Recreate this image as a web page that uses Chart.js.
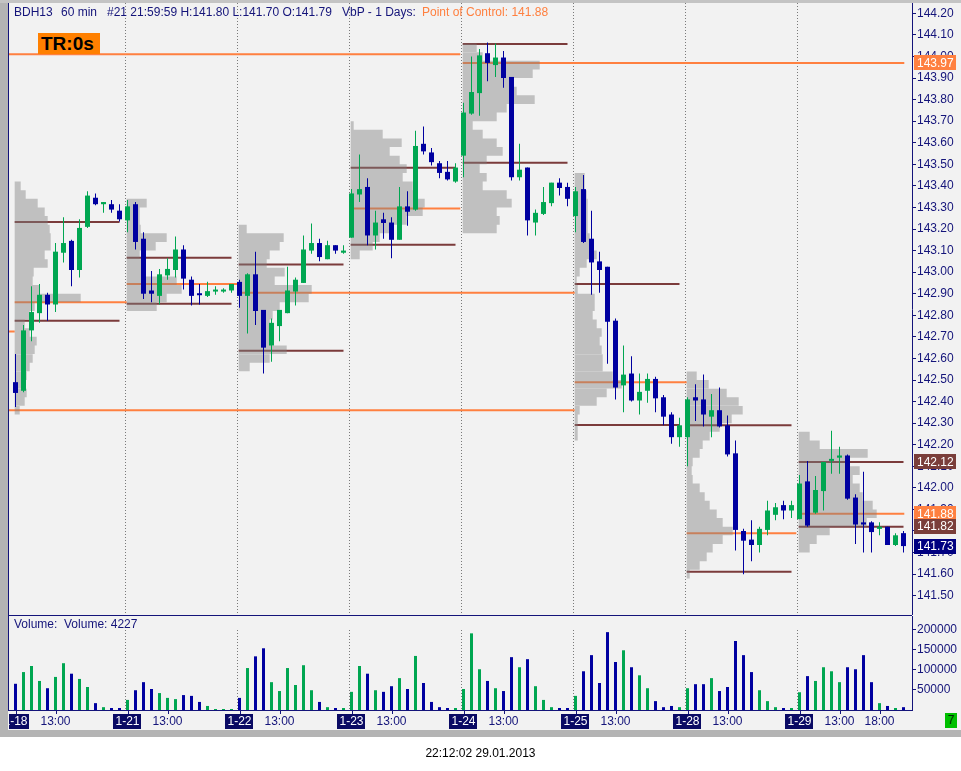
<!DOCTYPE html>
<html>
<head>
<meta charset="utf-8">
<script src="https://cdn.jsdelivr.net/npm/chart.js@4.4.1/dist/chart.umd.min.js"></script>
<style>
  html, body { margin: 0; padding: 0; background: #ffffff; }
  body { width: 961px; height: 771px; position: relative; overflow: hidden; font-family: Arial, "Liberation Sans", sans-serif; }
  .abs { position: absolute; white-space: pre; }
  #panel { left: 8px; top: 3px; width: 953px; height: 727px; background: #f2f2f2; }
  #frameLeft { left: 0; top: 0; width: 8px; height: 737px; background: #b4b4b4; }
  #frameTop { left: 0; top: 0; width: 961px; height: 3px; background: #c4c4c4; }
  #frameBottom { left: 0; top: 730px; width: 961px; height: 7px; background: #b4b4b4; }
  #navyLeft { left: 8px; top: 3px; width: 1px; height: 707px; background: #14147a; }
  #sepLine { left: 8px; top: 615px; width: 904px; height: 1px; background: #14147a; }
  #priceCanvas { left: 0; top: 0; }
  #volumeCanvas { left: 0; top: 612px; }
  .hdr { top: 5px; font-size: 12px; line-height: 14px; color: #14147a; }
  #tr { left: 38px; top: 33px; width: 62px; height: 21px; background: #ff8000; font-weight: bold; font-size: 19px; line-height: 21px; color: #000; padding-left: 3px; box-sizing: border-box; }
  #volTitle { left: 14px; top: 617px; font-size: 12px; line-height: 14px; color: #14147a; }
  #footer { left: 0; width: 961px; top: 746px; text-align: center; font-size: 12px; line-height: 14px; color: #000; }
  #liveBox { left: 945px; top: 713px; width: 12px; height: 15px; background: #00c000; font-size: 12px; line-height: 15px; text-align: center; color: #002800; }
</style>
</head>
<body>
<div class="abs" id="panel"></div>
<div class="abs" id="frameLeft"></div>
<div class="abs" id="frameTop"></div>
<div class="abs" id="frameBottom"></div>
<div class="abs" id="navyLeft"></div>
<canvas class="abs" id="priceCanvas" width="961" height="615"></canvas>
<canvas class="abs" id="volumeCanvas" width="961" height="125"></canvas>
<div class="abs" id="sepLine"></div>
<div class="abs hdr" style="left:14px">BDH13</div>
<div class="abs hdr" style="left:61px">60 min</div>
<div class="abs hdr" style="left:107px">#21 21:59:59 H:141.80 L:141.70 O:141.79</div>
<div class="abs hdr" style="left:342px">VbP - 1 Days:</div>
<div class="abs hdr" style="left:422px;color:#ff8040">Point of Control: 141.88</div>
<div class="abs" id="tr">TR:0s</div>
<div class="abs" id="volTitle">Volume:  Volume: 4227</div>
<div class="abs" id="liveBox">7</div>
<div class="abs" id="footer">22:12:02 29.01.2013</div>
<script>
// dias de la sesion, 14 velas horarias por dia (08:00 .. 21:00)
const days = ['1-18', '1-21', '1-22', '1-23', '1-24', '1-25', '1-28', '1-29'];
const hourLabels = [[5, '13:00'], [108, '18:00']];

// [open, high, low, close]
const candles = [
    [142.49, 142.62, 142.375, 142.44], [142.45, 142.755, 142.443, 142.73], [142.73, 142.935, 142.68, 142.815],
    [142.81, 142.945, 142.765, 142.895], [142.895, 142.905, 142.775, 142.85], [142.85, 143.135, 142.815, 143.095],
    [143.09, 143.255, 143.045, 143.135], [143.145, 143.15, 142.935, 143.01], [143.01, 143.245, 142.975, 143.205],
    [143.21, 143.375, 143.205, 143.355], [143.345, 143.365, 143.31, 143.315], [143.315, 143.325, 143.275, 143.325],
    [143.315, 143.335, 143.275, 143.29], [143.285, 143.315, 143.235, 143.245],

    [143.24, 143.335, 143.185, 143.305], [143.315, 143.325, 143.105, 143.14], [143.155, 143.185, 142.875, 142.9],
    [142.915, 143.005, 142.86, 142.9], [142.89, 143.015, 142.85, 142.99], [142.985, 143.065, 142.965, 143.015],
    [143.01, 143.165, 142.975, 143.105], [143.105, 143.125, 142.92, 142.97], [142.965, 142.98, 142.845, 142.89],
    [142.897, 142.945, 142.85, 142.893], [142.89, 142.955, 142.885, 142.912], [142.91, 142.935, 142.895, 142.914],
    [142.91, 142.925, 142.905, 142.914], [142.915, 142.945, 142.905, 142.945],

    [142.955, 142.965, 142.835, 142.89], [142.89, 142.995, 142.715, 142.99], [142.99, 143.095, 142.755, 142.82],
    [142.825, 142.825, 142.53, 142.65], [142.66, 142.785, 142.585, 142.765], [142.75, 142.825, 142.68, 142.825],
    [142.81, 143.025, 142.81, 142.915], [142.91, 142.975, 142.845, 142.965], [142.95, 143.17, 142.95, 143.105],
    [143.1, 143.225, 143.085, 143.135], [143.135, 143.155, 143.05, 143.07], [143.06, 143.145, 143.06, 143.125],
    [143.125, 143.125, 143.085, 143.1], [143.09, 143.125, 143.085, 143.1],

    [143.16, 143.385, 143.16, 143.365], [143.36, 143.545, 143.325, 143.385], [143.395, 143.435, 143.125, 143.17],
    [143.17, 143.285, 143.105, 143.23], [143.245, 143.275, 143.155, 143.228], [143.23, 143.255, 143.065, 143.15],
    [143.15, 143.395, 143.15, 143.305], [143.305, 143.375, 143.215, 143.28], [143.29, 143.655, 143.285, 143.585],
    [143.595, 143.675, 143.545, 143.56], [143.555, 143.575, 143.495, 143.51], [143.505, 143.515, 143.435, 143.46],
    [143.465, 143.515, 143.425, 143.43], [143.42, 143.505, 143.415, 143.485],

    [143.54, 143.785, 143.44, 143.74], [143.735, 144.0, 143.73, 143.835], [143.83, 144.035, 143.725, 144.005],
    [144.015, 144.065, 143.885, 143.97], [143.96, 144.06, 143.905, 143.995], [143.995, 144.025, 143.855, 143.9],
    [143.905, 143.905, 143.425, 143.44], [143.44, 143.595, 143.425, 143.475], [143.485, 143.485, 143.17, 143.24],
    [143.23, 143.29, 143.17, 143.275], [143.27, 143.395, 143.265, 143.325], [143.32, 143.415, 143.305, 143.415],
    [143.415, 143.435, 143.355, 143.39], [143.395, 143.415, 143.305, 143.34],

    [143.26, 143.395, 143.185, 143.375], [143.385, 143.45, 143.135, 143.14], [143.155, 143.285, 142.895, 143.045],
    [143.05, 143.095, 142.905, 143.01], [143.025, 143.025, 142.575, 142.77], [142.775, 142.785, 142.41, 142.465],
    [142.475, 142.66, 142.35, 142.525], [142.53, 142.61, 142.4, 142.405], [142.405, 142.53, 142.34, 142.445],
    [142.45, 142.53, 142.395, 142.505], [142.505, 142.515, 142.35, 142.415], [142.42, 142.43, 142.29, 142.33],
    [142.34, 142.35, 142.205, 142.235], [142.235, 142.325, 142.19, 142.29],

    [142.235, 142.42, 142.1, 142.41], [142.42, 142.48, 142.31, 142.405], [142.41, 142.525, 142.285, 142.34],
    [142.33, 142.435, 142.235, 142.36], [142.36, 142.465, 142.28, 142.285], [142.29, 142.335, 142.145, 142.155],
    [142.16, 142.22, 141.71, 141.805], [141.8, 141.81, 141.6, 141.755], [141.76, 141.85, 141.66, 141.735],
    [141.735, 141.82, 141.7, 141.81], [141.805, 141.94, 141.78, 141.895], [141.875, 141.93, 141.85, 141.91],
    [141.92, 141.94, 141.855, 141.895], [141.895, 141.94, 141.86, 141.92],

    [141.855, 142.06, 141.855, 142.02], [142.03, 142.125, 141.82, 141.825], [141.885, 142.055, 141.88, 141.99],
    [141.985, 142.12, 141.895, 142.12], [142.125, 142.265, 142.065, 142.13], [142.14, 142.19, 142.065, 142.15],
    [142.15, 142.155, 141.945, 141.95], [141.955, 141.97, 141.74, 141.83], [141.84, 142.075, 141.7, 141.83],
    [141.84, 141.845, 141.7, 141.795], [141.81, 141.84, 141.78, 141.82], [141.82, 141.82, 141.735, 141.735],
    [141.735, 141.79, 141.73, 141.78], [141.79, 141.8, 141.7, 141.73]
];

const volumes = [
    65000, 94000, 109000, 72000, 54000, 82000, 116000, 90000, 77000, 57000, 17000, 7000, 5000, 5000,
    25000, 49000, 69000, 52000, 42000, 30000, 27000, 37000, 35000, 20000, 10000, 2500, 2500, 2500,
    30000, 104000, 133000, 153000, 69000, 47000, 104000, 62000, 111000, 49000, 20000, 7000, 5000, 5000,
    45000, 109000, 90000, 49000, 45000, 59000, 79000, 52000, 134000, 67000, 20000, 7000, 5000, 5000,
    52000, 190000, 101000, 72000, 54000, 47000, 131000, 106000, 126000, 59000, 25000, 7000, 5000, 5000,
    35000, 96000, 136000, 67000, 193000, 119000, 148000, 106000, 86000, 54000, 22000, 7000, 10000, 7000,
    54000, 64000, 64000, 79000, 47000, 57000, 171000, 136000, 94000, 49000, 22000, 7000, 5000, 5000,
    44000, 84000, 72000, 106000, 96000, 69000, 106000, 101000, 136000, 69000, 17000, 10000, 5000, 7000
];

const priceTicks = [144.2, 144.1, 144.0, 143.9, 143.8, 143.7, 143.6, 143.5, 143.4, 143.3, 143.2, 143.1, 143.0,
    142.9, 142.8, 142.7, 142.6, 142.5, 142.4, 142.3, 142.2, 142.1, 142.0, 141.9, 141.8, 141.7, 141.6, 141.5];
const volumeTicks = [50000, 100000, 150000, 200000];

// volume profile de cada dia: precio del primer nivel y volumen relativo por nivel de 0.04
const profileStep = 0.04;
const profileTops = [143.40, 143.32, 143.20, 143.68, 144.04, 143.44, 142.52, 142.24];
const profiles = [
    [6, 11, 23, 30, 33, 35, 36, 36, 30, 33, 19, 18, 25, 66, 20, 15, 10, 15, 22, 20, 18, 15, 12, 10, 12, 10, 5],
    [20, 13, 13, 14, 40, 29, 13, 16, 16, 50, 55, 40, 30],
    [8, 45, 41, 31, 28, 46, 36, 73, 70, 41, 34, 31, 34, 33, 48, 31, 11],
    [3, 32, 51, 39, 49, 56, 52, 62, 66, 74, 72, 56, 39, 29, 22, 9],
    [14, 20, 77, 70, 50, 54, 72, 44, 34, 10, 20, 34, 40, 24, 17, 24, 20, 44, 49, 34, 37, 34],
    [10, 10, 12, 13, 13, 13, 13, 15, 15, 22, 12, 5, 2, 3, 20, 20, 18, 22, 27, 25, 27, 28, 28, 38, 47, 32, 22, 5, 3, 3, 3],
    [10, 22, 40, 52, 56, 45, 33, 23, 16, 13, 6, 5, 6, 13, 18, 23, 30, 36, 46, 36, 26, 20, 13, 3],
    [11, 21, 69, 51, 61, 54, 61, 64, 74, 78, 68, 31, 18, 11]
];

// point of control: [vela inicial, vela final, precio]  (null = borde del grafico)
const pocLines = [
    [null, 55.6, 144.01], [null, -0.1, 142.725], [null, 69.9, 142.36],
    [-0.1, 13.9, 142.86], [13.9, 28, 142.945], [27.9, 69.9, 142.905], [41.9, 55.6, 143.295],
    [55.9, 111.1, 143.97], [69.9, 83.9, 142.49], [83.9, 97.6, 141.79], [97.9, 111.1, 141.88]
];
// value area alto / bajo por dia
const vaHigh = [143.2325, 143.067, 143.035, 143.484, 144.058, 142.945, 142.29, 142.12];
const vaLow = [142.775, 142.854, 142.636, 143.127, 143.507, 142.291, 141.611, 141.82];

const axisMarks = [[143.97, 'poc'], [142.12, 'va'], [141.88, 'poc'], [141.82, 'va'], [141.73, 'last']];

const NAVY = '#14147a';
const GREEN = '#00a651';
const BLUE = '#0000a0';
const ORANGE = '#ff8040';
const BROWN = '#7b3b3b';
const markColors = {poc: ORANGE, va: '#7a3e3a', last: '#000080'};

const X_MIN = -0.8125;
const X_MAX = X_MIN + 903 / 8;

function candleColor(i) {
    return candles[i][3] >= candles[i][0] ? GREEN : BLUE;
}

function fixAxis(scale) {
    scale.width = 49;
    scale.paddingTop = 0;
    scale.paddingBottom = 0;
}

function segmentData(list) {
    const pts = [];
    list.forEach(s => {
        pts.push({x: s[0], y: s[2]}, {x: s[1], y: s[2]}, {x: s[1], y: null});
    });
    return pts;
}

function buildPocData() {
    return segmentData(pocLines.map(l => [l[0] === null ? X_MIN : l[0], l[1], l[2]]));
}

function buildVaData() {
    const list = [];
    days.forEach((d, k) => {
        list.push([k * 14 - 0.1, k * 14 + 13, vaHigh[k]]);
        list.push([k * 14 - 0.1, k * 14 + 13, vaLow[k]]);
    });
    return segmentData(list);
}

function buildProfileData() {
    const list = [];
    profiles.forEach((row, k) => {
        const x0 = k * 14 - 0.1;
        row.forEach((v, j) => {
            list.push([x0, x0 + v / 8, profileTops[k] - j * profileStep]);
        });
    });
    return segmentData(list);
}

// lineas punteadas de separacion de dias
const separators = {
    id: 'separators',
    beforeDatasetsDraw(chart, args, opts) {
        const {ctx, chartArea, scales} = chart;
        ctx.save();
        ctx.strokeStyle = '#7a7a7a';
        ctx.lineWidth = 1;
        ctx.setLineDash([1, 2]);
        for (let k = 1; k < days.length; k++) {
            const px = Math.round(scales.x.getPixelForValue(k * 14 - 0.375)) + 0.5;
            ctx.beginPath();
            ctx.moveTo(px, opts.top !== undefined ? opts.top : chartArea.top);
            ctx.lineTo(px, chartArea.bottom);
            ctx.stroke();
        }
        ctx.restore();
    }
};

// etiquetas de precio sobre el eje derecho
const priceMarks = {
    id: 'priceMarks',
    afterDraw(chart) {
        const {ctx, chartArea, scales} = chart;
        ctx.save();
        ctx.font = '12px Arial';
        ctx.textBaseline = 'middle';
        axisMarks.forEach(m => {
            const py = scales.y.getPixelForValue(m[0]);
            ctx.fillStyle = markColors[m[1]];
            ctx.fillRect(chartArea.right + 2, Math.round(py - 7.5), 42, 15);
            ctx.fillStyle = '#ffffff';
            ctx.fillText(m[0].toFixed(2), chartArea.right + 5, py + 0.5);
        });
        ctx.restore();
    }
};

// eje de fechas debajo del volumen
const dateAxis = {
    id: 'dateAxis',
    afterDraw(chart) {
        const {ctx, chartArea, scales} = chart;
        const x = scales.x;
        const tickAt = [];
        days.forEach((d, k) => tickAt.push(k * 14, k * 14 + hourLabels[0][0]));
        tickAt.push(hourLabels[1][0]);

        ctx.save();
        ctx.strokeStyle = NAVY;
        ctx.lineWidth = 1;
        ctx.beginPath();
        ctx.moveTo(chartArea.left - 1, chartArea.bottom + 0.5);
        ctx.lineTo(chartArea.right, chartArea.bottom + 0.5);
        tickAt.forEach(v => {
            const px = Math.round(x.getPixelForValue(v)) + 0.5;
            ctx.moveTo(px, chartArea.bottom);
            ctx.lineTo(px, chartArea.bottom + 4);
        });
        ctx.stroke();

        ctx.beginPath();
        ctx.rect(chartArea.left, 0, chartArea.right - chartArea.left, chart.height);
        ctx.clip();
        ctx.font = '12px Arial';
        ctx.textAlign = 'center';
        ctx.textBaseline = 'middle';
        const ty = chartArea.bottom + 11;
        days.forEach((d, k) => {
            const px = x.getPixelForValue(k * 14);
            const w = ctx.measureText(d).width + 4;
            ctx.fillStyle = '#0a0a64';
            ctx.fillRect(Math.round(px - w / 2), ty - 7, Math.round(w), 15);
            ctx.fillStyle = '#ffffff';
            ctx.fillText(d, px, ty + 1);
            ctx.fillStyle = NAVY;
            ctx.fillText(hourLabels[0][1], x.getPixelForValue(k * 14 + hourLabels[0][0]), ty + 1);
        });
        ctx.fillStyle = NAVY;
        ctx.fillText(hourLabels[1][1], x.getPixelForValue(hourLabels[1][0]), ty + 1);
        ctx.restore();
    }
};

document.addEventListener('DOMContentLoaded', function () {
    const colors = candles.map((c, i) => candleColor(i));

    new Chart(document.getElementById('priceCanvas'), {
        type: 'bar',
        data: {
            datasets: [
                {
                    type: 'line', data: buildPocData(), borderColor: ORANGE, borderWidth: 2,
                    pointRadius: 0, spanGaps: false, borderCapStyle: 'butt', order: 5
                },
                {
                    type: 'line', data: buildVaData(), borderColor: BROWN, borderWidth: 2,
                    pointRadius: 0, spanGaps: false, borderCapStyle: 'butt', order: 4
                },
                {
                    type: 'line', data: buildProfileData(), borderColor: 'rgba(128,128,128,0.44)', borderWidth: 8.6,
                    pointRadius: 0, spanGaps: false, borderCapStyle: 'butt', order: 3
                },
                {
                    data: candles.map((c, i) => ({x: i, y: [c[2], c[1]]})),
                    backgroundColor: colors, barThickness: 1, grouped: false, inflateAmount: 0, order: 2
                },
                {
                    data: candles.map((c, i) => ({x: i, y: [c[0], c[3]]})),
                    backgroundColor: colors, barThickness: 5, minBarLength: 2, grouped: false, inflateAmount: 0, order: 1
                }
            ]
        },
        options: {
            responsive: false,
            animation: false,
            layout: {padding: {left: 9, top: 3, right: 0, bottom: 0}},
            plugins: {legend: {display: false}, tooltip: {enabled: false}},
            scales: {
                x: {type: 'linear', display: false, offset: false, min: X_MIN, max: X_MAX},
                y: {
                    position: 'right',
                    min: 144.2478 - 612 / 215.7,
                    max: 144.2478,
                    afterFit: fixAxis,
                    afterBuildTicks: s => { s.ticks = priceTicks.map(v => ({value: v})); },
                    grid: {drawOnChartArea: false, tickLength: 4, color: NAVY},
                    border: {color: NAVY},
                    ticks: {color: NAVY, padding: 1, autoSkip: false, font: {family: 'Arial', size: 12}, callback: v => v.toFixed(2)}
                }
            }
        },
        plugins: [separators, priceMarks]
    });

    new Chart(document.getElementById('volumeCanvas'), {
        type: 'bar',
        data: {
            datasets: [{
                data: volumes.map((v, i) => ({x: i, y: v})),
                backgroundColor: colors, barThickness: 3, grouped: false, inflateAmount: 0
            }]
        },
        options: {
            responsive: false,
            animation: false,
            layout: {padding: {left: 9, top: 4, right: 0, bottom: 27}},
            plugins: {legend: {display: false}, tooltip: {enabled: false}, separators: {top: 18}},
            scales: {
                x: {type: 'linear', display: false, offset: false, min: X_MIN, max: X_MAX},
                y: {
                    position: 'right',
                    min: 0,
                    max: 233000,
                    afterFit: fixAxis,
                    afterBuildTicks: s => { s.ticks = volumeTicks.map(v => ({value: v})); },
                    grid: {drawOnChartArea: false, tickLength: 4, color: NAVY},
                    border: {color: NAVY},
                    ticks: {color: NAVY, padding: 1, autoSkip: false, font: {family: 'Arial', size: 12}, callback: v => String(v)}
                }
            }
        },
        plugins: [separators, dateAxis]
    });
});
</script>
</body>
</html>
